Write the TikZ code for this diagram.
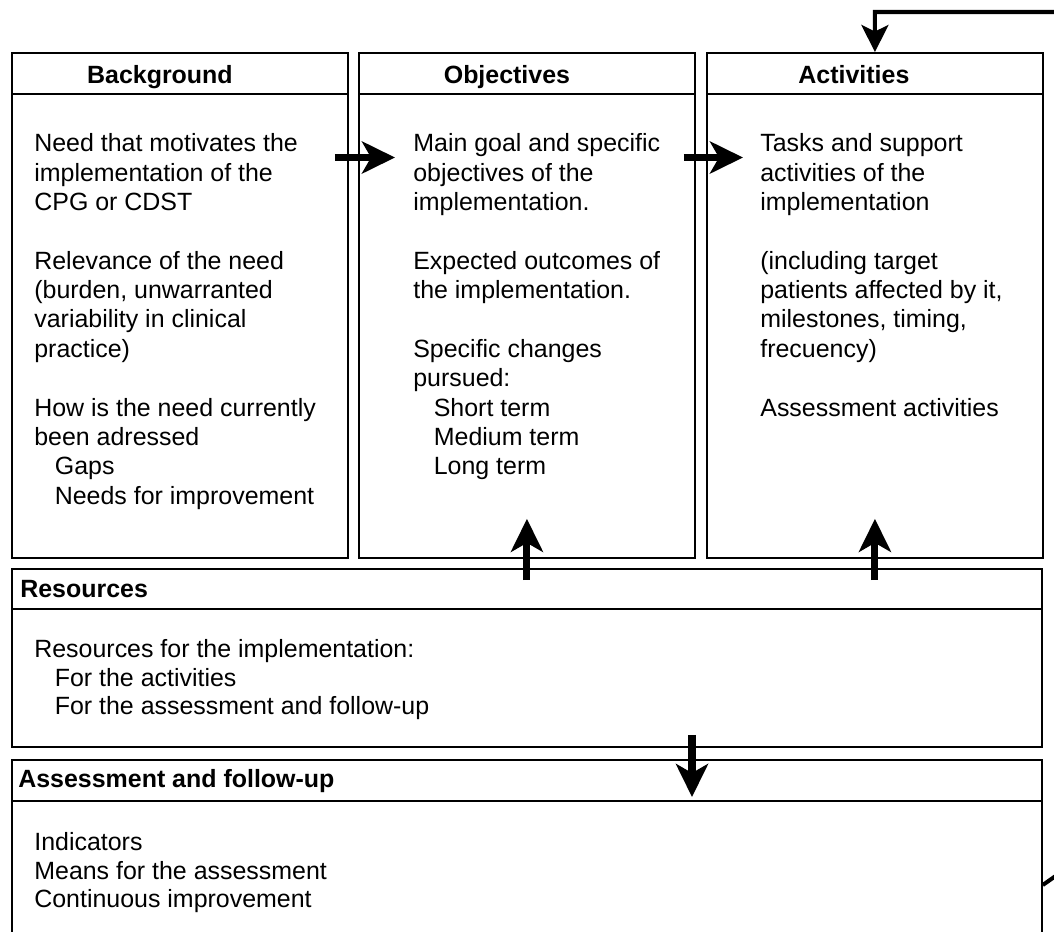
\documentclass[tikz,border=0pt]{standalone}
\usepackage{fontspec}
\setmainfont{Liberation Sans}
\usetikzlibrary{arrows.meta,calc}
\newcommand{\indentitem}{\hspace*{0.41cm}}

\begin{document}
\begin{tikzpicture}[
  x=0.02cm, y=-0.02cm,
  every node/.style={font=\fontsize{14.2}{16.7}\selectfont},
  panel/.style={rectangle, draw, line width=1.1pt, anchor=north west, inner sep=0pt, minimum width=6.72cm, minimum height=10.1cm},
  widepanel/.style={panel, minimum width=20.6cm},
  title/.style={font=\fontsize{14.2}{16.7}\selectfont\bfseries, inner sep=0pt},
  body/.style={anchor=north west, align=left, inner sep=0pt},
  lowbody/.style={body, font=\fontsize{14.2}{16.3}\selectfont},
  flow/.style={line width=4pt, -{Stealth[length=0.66cm, width=0.64cm, inset=0.18cm]}},
  feedback/.style={line width=2.3pt, -{Stealth[length=0.54cm, width=0.54cm, inset=0.13cm]}},
]
\useasboundingbox (0,0) rectangle (1054,931);
\clip (0,0) rectangle (1054,931);

% Top row
\node[panel] (bg) at (11,52) {};
\node[panel] (obj) at (358,52) {};
\node[panel] (act) at (706,52) {};
\foreach \p in {bg,obj,act}
  \draw[line width=1.1pt] ($(\p.north west)+(0,42)$) -- ($(\p.north east)+(0,42)$);

\node[title, anchor=base] (bgtitle) at ($(bg.north)+(-20,31)$) {Background};
\node[title, anchor=base] (objtitle) at ($(obj.north)+(-20,31)$) {Objectives};
\node[title, anchor=base] (acttitle) at ($(act.north)+(-21,31)$) {Activities};

\node[body] (bgtext) at ($(bg.north west)+(23,81.5)$) {
  Need that motivates the\\
  implementation of the\\
  CPG or CDST\\[16.7pt]
  Relevance of the need\\
  (burden, unwarranted\\
  variability in clinical\\
  practice)\\[16.7pt]
  How is the need currently\\
  been adressed\\
  \indentitem Gaps\\
  \indentitem Needs for improvement
};
\node[body] (objtext) at ($(obj.north west)+(55,81.5)$) {
  Main goal and specific\\
  objectives of the\\
  implementation.\\[16.7pt]
  Expected outcomes of\\
  the implementation.\\[16.7pt]
  Specific changes\\
  pursued:\\
  \indentitem Short term\\
  \indentitem Medium term\\
  \indentitem Long term
};
\node[body] (acttext) at ($(act.north west)+(54,81.5)$) {
  Tasks and support\\
  activities of the\\
  implementation\\[16.7pt]
  (including target\\
  patients affected by it,\\
  milestones, timing,\\
  frecuency)\\[16.7pt]
  Assessment activities
};

% Resources
\node[widepanel, minimum height=3.56cm] (res) at (11,568) {};
\draw[line width=1.1pt] ($(res.north west)+(0,41)$) -- ($(res.north east)+(0,41)$);
\node[title, anchor=base west] (restitle) at ($(res.north west)+(9,29)$) {Resources};
\node[lowbody] (restext) at ($(res.north west)+(23,71)$) {
  Resources for the implementation:\\
  \indentitem For the activities\\
  \indentitem For the assessment and follow-up
};

% Assessment and follow-up
\node[widepanel, minimum height=4.2cm] (asmt) at (11,759) {};
\draw[line width=1.1pt] ($(asmt.north west)+(0,42)$) -- ($(asmt.north east)+(0,42)$);
\node[title, anchor=base west] (asmttitle) at ($(asmt.north west)+(7,28)$) {Assessment and follow-up};
\node[lowbody] (asmttext) at ($(asmt.north west)+(23,73)$) {
  Indicators\\
  Means for the assessment\\
  Continuous improvement
};

% Arrows
\draw[flow] ($(bg.north east)+(-14,105.5)$) -- ($(obj.north west)+(37,105.5)$);
\draw[flow] ($(obj.north east)+(-12,105.5)$) -- ($(act.north west)+(37,105.5)$);
\draw[flow] ([yshift=-0.24cm]res.north -| obj.south) -- ([yshift=0.8cm]obj.south);
\draw[flow] ([yshift=-0.24cm]res.north -| act.south) -- ([yshift=0.8cm]act.south);
\draw[flow] ($(res.south west)+(681,-13)$) -- ($(asmt.north west)+(681,38)$);

% Feedback loop
\coordinate (fbstart) at ($(asmt.north east)+(0,126)$);
\draw[feedback] (fbstart) -- ++(40,-28) |- ($(act.north)+(0,-40)$) -- (act.north);

\end{tikzpicture}
\end{document}
